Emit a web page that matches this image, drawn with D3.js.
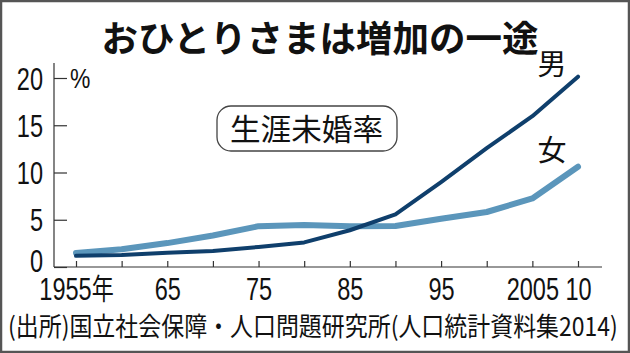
<!DOCTYPE html>
<html>
<head>
<meta charset="utf-8">
<script src="https://cdn.jsdelivr.net/npm/d3@7"></script>
<style>
  html, body { margin: 0; padding: 0; background: #fff; }
  svg { display: block; }
  .num { font-family: "Liberation Sans", Arial, sans-serif; }
  .jp { font-family: "Noto Sans CJK JP", sans-serif; }
</style>
</head>
<body>
<svg id="chart" width="630" height="353"></svg>
<script>
// ---- data ----
const years = [1955, 1960, 1965, 1970, 1975, 1980, 1985, 1990, 1995, 2000, 2005, 2010];
const men   = [1.18, 1.26, 1.50, 1.70, 2.12, 2.60, 3.89, 5.57, 8.99, 12.57, 15.96, 20.14];
const women = [1.47, 1.87, 2.53, 3.33, 4.32, 4.45, 4.32, 4.33, 5.10, 5.82, 7.25, 10.61];
const xTickLabels = ["1955年", "", "65", "", "75", "", "85", "", "95", "", "2005", "10"];
const yTicks = [0, 5, 10, 15, 20];
const title = "おひとりさまは増加の一途";
const boxLabel = "生涯未婚率";
const seriesNames = ["男", "女"];
const unitLabel = "%";
const source = "(出所)国立社会保障・人口問題研究所(人口統計資料集2014)";

const svg = d3.select("#chart");
const W = 630, H = 353;
const SX = 0.76; // horizontal condensing of the numeric labels

function condense(sel, s, x0) {
  sel.attr("transform", `scale(${s},1)`).attr("x", x0 / s);
}

svg.append("rect").attr("x", 0).attr("y", 0).attr("width", W).attr("height", H).attr("fill", "#fff");

const x = d3.scaleLinear().domain([1955, 2010]).range([76, 578]);
const y = d3.scaleLinear().domain([0, 20]).range([267, 78]);

// title
svg.append("text").attr("class", "jp")
  .attr("x", 320).attr("y", 52)
  .attr("text-anchor", "middle")
  .attr("font-size", 36.5).attr("font-weight", "bold").attr("fill", "#111")
  .text(title);

// y axis
const yAxis = d3.axisLeft(y).tickValues(yTicks).tickSizeInner(-13).tickSizeOuter(0).tickPadding(11);
const gy = svg.append("g").attr("transform", "translate(54,0)").call(yAxis);
gy.select(".domain").remove();
gy.selectAll(".tick line").attr("stroke", "#333").attr("stroke-width", 1.2);
gy.selectAll(".tick text").attr("class", "num").attr("font-size", 31).attr("fill", "#111")
  .attr("dy", "0.36em").call(condense, SX, -11);
gy.selectAll(".tick").filter(d => d === 0).select("text").attr("dy", "0.14em");
svg.append("line").attr("x1", 54).attr("x2", 54).attr("y1", 63).attr("y2", y(0))
  .attr("stroke", "#333").attr("stroke-width", 1.2);

// x axis
const xAxis = d3.axisBottom(x).tickValues(years).tickSizeInner(-6).tickSizeOuter(0)
  .tickFormat((d, i) => xTickLabels[i]);
const gx = svg.append("g").attr("transform", `translate(0,${y(0)})`).call(xAxis);
gx.select(".domain").remove();
gx.selectAll(".tick line").attr("stroke", "#333").attr("stroke-width", 1.2);
gx.selectAll(".tick text").attr("class", "num").attr("font-size", 31).attr("fill", "#111")
  .attr("y", 33).attr("dy", 0).call(condense, SX, 0);
gx.selectAll(".tick text").filter((d, i) => i === 0)
  .each(function () {
    const t = d3.select(this);
    const s = t.text();
    t.text(null);
    t.append("tspan").attr("class", "num").text(s.slice(0, 4));
    t.append("tspan").attr("class", "jp").attr("font-size", 29).text(s.slice(4));
  });
svg.append("line").attr("x1", 54).attr("x2", 602).attr("y1", y(0)).attr("y2", y(0))
  .attr("stroke", "#333").attr("stroke-width", 1.2);

// lines
const line = d3.line().x((d, i) => x(years[i])).y(d => y(d));
svg.append("path").datum(women).attr("d", line)
  .attr("fill", "none").attr("stroke", "#5b96bb").attr("stroke-width", 6)
  .attr("stroke-linejoin", "round").attr("stroke-linecap", "round");
svg.append("path").datum(men).attr("d", line)
  .attr("fill", "none").attr("stroke", "#0f3f6c").attr("stroke-width", 4)
  .attr("stroke-linejoin", "round").attr("stroke-linecap", "round");

// unit
svg.append("text").attr("class", "num").attr("y", 88)
  .attr("font-size", 27).attr("fill", "#111").text(unitLabel).call(condense, 0.85, 70);

// series labels
svg.append("text").attr("class", "jp").attr("x", 552).attr("y", 75)
  .attr("text-anchor", "middle").attr("font-size", 29).attr("fill", "#111").text(seriesNames[0]);
svg.append("text").attr("class", "jp").attr("x", 552).attr("y", 161)
  .attr("text-anchor", "middle").attr("font-size", 29).attr("fill", "#111").text(seriesNames[1]);

// box label
svg.append("rect").attr("x", 217).attr("y", 106).attr("width", 180).attr("height", 45)
  .attr("rx", 14).attr("ry", 14).attr("fill", "#fff").attr("stroke", "#444").attr("stroke-width", 1.3);
svg.append("text").attr("class", "jp").attr("x", 230).attr("y", 140)
  .attr("font-size", 30).attr("fill", "#111")
  .attr("textLength", 153).attr("lengthAdjust", "spacingAndGlyphs").text(boxLabel);

// source (condensed with a transform to fit the frame width)
const src = svg.append("text").attr("class", "jp").attr("y", 336)
  .attr("font-size", 26).attr("fill", "#111").text(source);
const srcW = src.node().getComputedTextLength();
const srcS = Math.min(1, 610 / srcW);
src.call(condense, srcS, 8);

// frame
svg.append("rect").attr("x", 1).attr("y", 1).attr("width", W - 2).attr("height", H - 2)
  .attr("fill", "none").attr("stroke", "#555").attr("stroke-width", 2.5);
</script>
</body>
</html>
